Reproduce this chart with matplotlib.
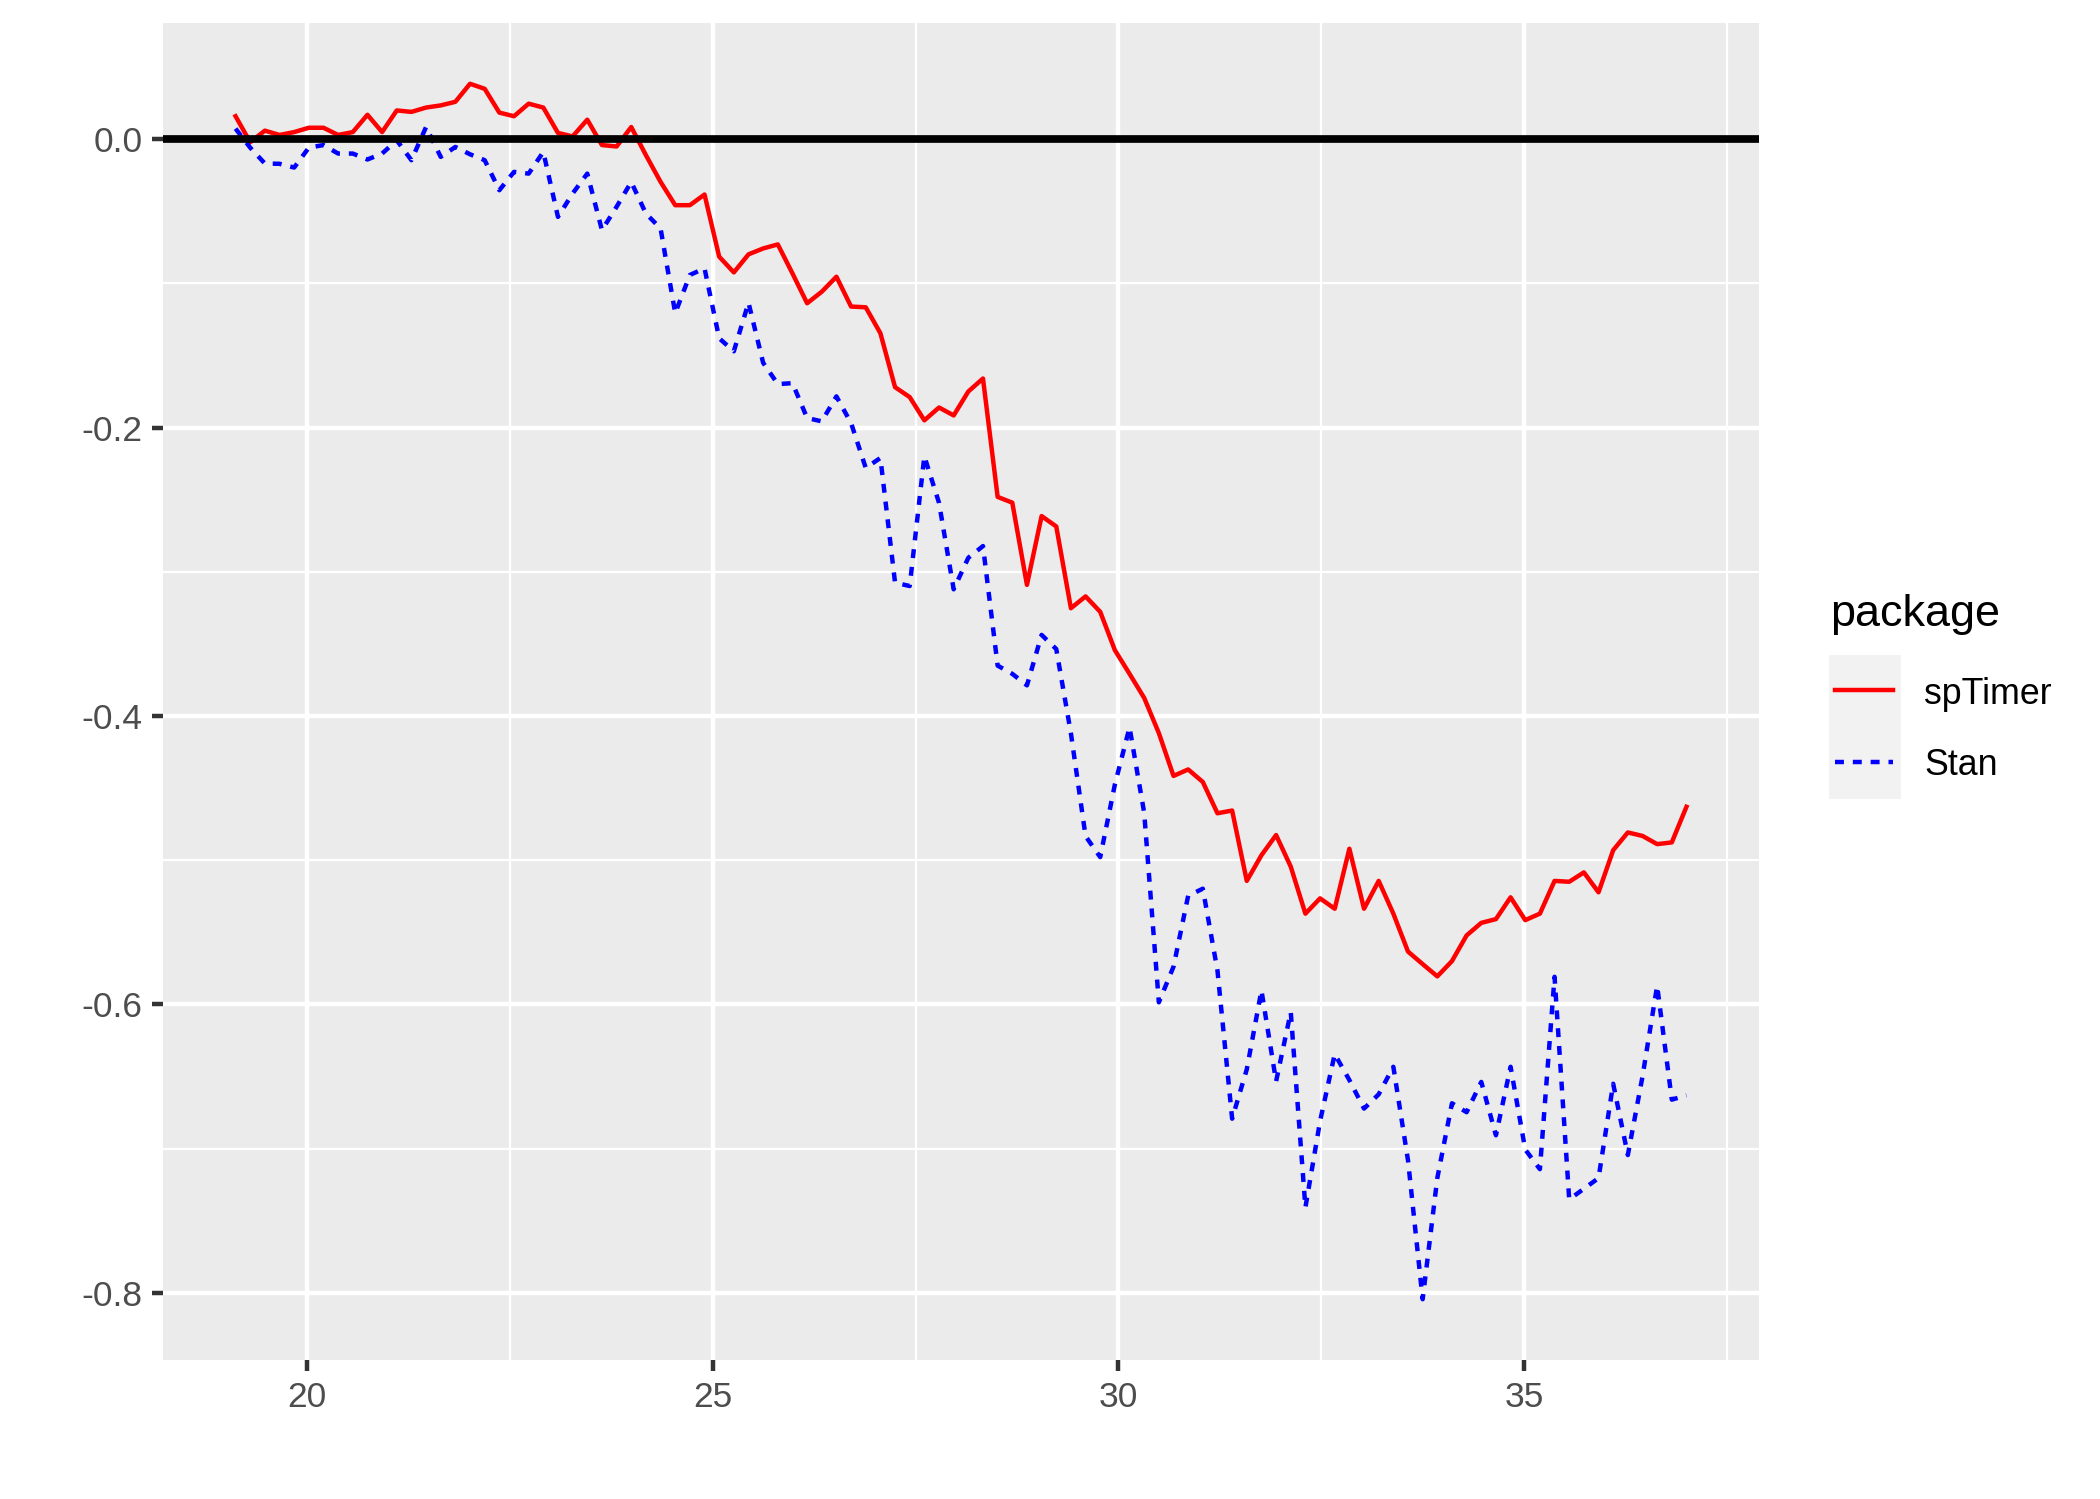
import numpy as np
import matplotlib
matplotlib.use("Agg")
import matplotlib.pyplot as plt
from matplotlib.lines import Line2D
from matplotlib.patches import Rectangle

plt.rcParams['font.family'] = ['Liberation Sans', 'DejaVu Sans']

# 100 evenly spaced x positions (first ~19.12, last ~37.0)
x = np.linspace(19.12, 37.0, 100)

packages = ['spTimer', 'Stan']

sptimer = [
    0.016, -0.002, 0.006, 0.003, 0.005, 0.008, 0.008, 0.003, 0.005, 0.017,
    0.005, 0.020, 0.019, 0.022, 0.0235, 0.026, 0.0385, 0.035, 0.0185, 0.016,
    0.0247, 0.022, 0.0044, 0.002, 0.0136, -0.004, -0.005, 0.0085, -0.011, -0.0295,
    -0.0457, -0.0457, -0.0383, -0.0814, -0.0923, -0.0798, -0.0757, -0.0729, -0.093, -0.1137,
    -0.1057, -0.0953, -0.116, -0.1165, -0.1345, -0.1719, -0.1788, -0.1949, -0.186, -0.1915,
    -0.1749, -0.1659, -0.248, -0.252, -0.309, -0.2613, -0.2685, -0.3252, -0.317, -0.3277,
    -0.3543, -0.3707, -0.3874, -0.4118, -0.4415, -0.437, -0.4457, -0.4674, -0.4655, -0.5143,
    -0.4965, -0.4825, -0.5044, -0.537, -0.5264, -0.5336, -0.492, -0.5336, -0.5143, -0.537,
    -0.5633, -0.572, -0.5805, -0.5699, -0.5521, -0.5434, -0.5408, -0.5257, -0.5415, -0.537,
    -0.5143, -0.5149, -0.5084, -0.5222, -0.493, -0.4807, -0.4831, -0.4888, -0.4876, -0.4629,
]

stan = [
    0.0074, -0.0058, -0.0168, -0.017, -0.0196, -0.0058, -0.004, -0.0099, -0.0099, -0.014,
    -0.0099, -0.0007, -0.0145, 0.0085, -0.0122, -0.0053, -0.0104, -0.0145, -0.0353, -0.0226,
    -0.0238, -0.0088, -0.0538, -0.0376, -0.0238, -0.063, -0.0468, -0.0296, -0.0515, -0.0618,
    -0.1206, -0.0941, -0.0895, -0.138, -0.147, -0.1133, -0.155, -0.1698, -0.1691, -0.1933,
    -0.1956, -0.1783, -0.1968, -0.2279, -0.221, -0.3075, -0.3098, -0.2198, -0.2521, -0.3121,
    -0.2902, -0.2821, -0.365, -0.3707, -0.3787, -0.3437, -0.3535, -0.412, -0.4833, -0.4978,
    -0.4474, -0.4078, -0.4671, -0.5985, -0.5738, -0.5246, -0.5197, -0.5765, -0.6792, -0.645,
    -0.5902, -0.6533, -0.6053, -0.7408, -0.6809, -0.6344, -0.6524, -0.6722, -0.6623, -0.6432,
    -0.708, -0.8044, -0.7204, -0.6685, -0.6747, -0.6537, -0.6907, -0.6432, -0.7006, -0.7142,
    -0.5808, -0.7352, -0.7278, -0.7204, -0.655, -0.7044, -0.65, -0.587, -0.666, -0.663,
]

y_ticks = [0.0, -0.2, -0.4, -0.6, -0.8]
x_ticks = [20, 25, 30, 35]

W, H = 2100, 1499
fig = plt.figure(figsize=(W / 300, H / 300), dpi=300)
ax = fig.add_axes([163 / W, 1 - 1360 / H, (1759 - 163) / W, (1360 - 23) / H])
ax.set_facecolor('#EBEBEB')

styles = {'spTimer': dict(color='red', linestyle='-'),
          'Stan': dict(color='blue', linestyle=(0, (2.0, 2.0)))}
series = {'spTimer': sptimer, 'Stan': stan}
for name in packages:
    ax.plot(x, series[name], lw=1.07, zorder=3, **styles[name])
ax.axhline(0, color='black', lw=1.85, zorder=4)

# ggplot-style 5% expansion
allv = np.array(sptimer + stan)
ymin, ymax = allv.min(), allv.max()
ypad = 0.05 * (ymax - ymin)
ax.set_ylim(ymin - ypad, ymax + ypad)
xpad = 0.05 * (x.max() - x.min())
ax.set_xlim(x.min() - xpad, x.max() + xpad)

ax.set_xticks(x_ticks)
ax.set_xticks([22.5, 27.5, 32.5, 37.5], minor=True)
ax.set_yticks(y_ticks)
ax.set_yticklabels([f"{v:.1f}".replace('\u2212', '-') for v in y_ticks])
ax.set_yticks([-0.1, -0.3, -0.5, -0.7], minor=True)
ax.set_axisbelow(True)
ax.grid(which='major', color='white', lw=1.07)
ax.grid(which='minor', color='white', lw=0.53)
for s in ax.spines.values():
    s.set_visible(False)
ax.tick_params(which='major', length=2.75, width=1.07, color='#333333',
               labelcolor='#4D4D4D', labelsize=8.5, pad=2.2)
ax.tick_params(which='minor', length=0)

# legend, drawn by hand in figure coordinates
fig.text(1830 / W, 1 - 626 / H, 'package', fontsize=10.8, va='baseline', ha='left')
fig.add_artist(Rectangle((1829 / W, 1 - 799 / H), 72 / W, 144 / H,
                         transform=fig.transFigure, facecolor='#F2F2F2', edgecolor='none'))
key_y = [690, 762]
text_base = [704, 775]
for name, ky, tb in zip(packages, key_y, text_base):
    fig.add_artist(Line2D([1835 / W, 1893 / W], [1 - ky / H, 1 - ky / H],
                          transform=fig.transFigure, lw=1.07, **styles[name]))
    fig.text(1924 / W, 1 - tb / H, name, fontsize=8.6, va='baseline', ha='left')

fig.savefig('out.png', dpi=300)
